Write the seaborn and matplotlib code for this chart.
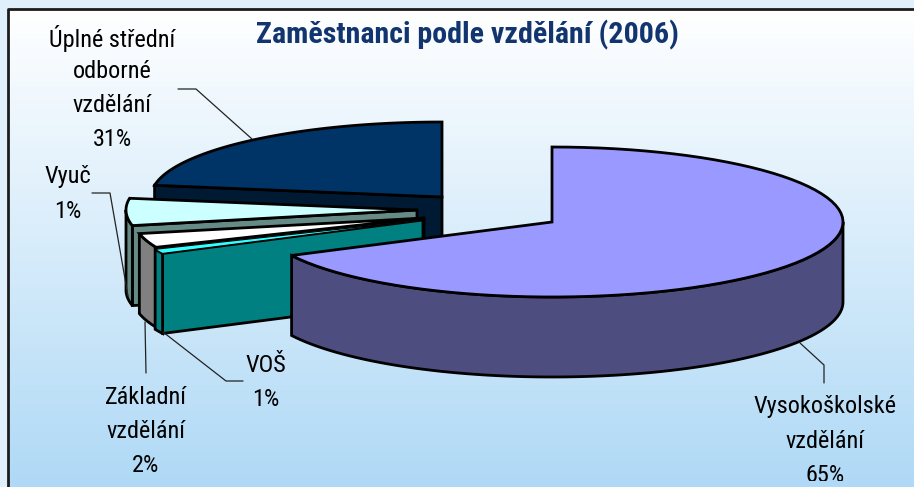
import numpy as np
import matplotlib
matplotlib.use("Agg")
import matplotlib.pyplot as plt
from matplotlib.patches import Rectangle
import seaborn as sns

categories = ["Vysokoškolské\nvzdělání", "VOŠ", "Základní\nvzdělání", "Vyuč", "Úplné střední\nodborné\nvzdělání"]
shares = [65, 1, 2, 1, 31]
title = "Zaměstnanci podle vzdělání (2006)"

top_colors = sns.color_palette(["#9999ff", "#33ffff", "#ffffff", "#ccffff", "#003366"])
wall_colors = sns.color_palette(["#4d4d80", "#008080", "#808080", "#668a85", "#001a33"])

W, H = 914, 487
RX, RY, DEPTH = 291, 75, 80

# each slice is pulled away from the pie on its own, apex in pixels
apexes = [(552, 222), (423, 220), (424, 218), (417, 210), (442, 197)]
# the 3D view squeezes the big back slice: cumulative share -> drawn angle
view_share = [0, 65, 66, 68, 69, 100]
view_angle = [0, 243.5, 247, 258, 279, 360]

leaders = [
    [(800, 343), (824, 365), (824, 383)],
    [(163, 332), (226, 381), (243, 381)],
    [(145, 322), (146, 373)],
    [(92, 193), (110, 193), (128, 296)],
    [(178, 89), (196, 89), (252, 139)],
]
label_pos = [(825, 407), (266, 366), (146, 397), (68, 177), (112, 38)]


def rim(apex, a0, a1, n=80):
    t = np.radians(np.linspace(a0, a1, n))
    return apex[0] + RX * np.sin(t), apex[1] - RY * np.cos(t)


def draw_slice(ax, apex, a0, a1, top, wall):
    # cut face on the clockwise-start side, only when it faces the viewer
    if a0 > 180:
        x, y = rim(apex, a0, a0, 1)
        ax.fill([apex[0], x[0], x[0], apex[0]], [apex[1], y[0], y[0] + DEPTH, apex[1] + DEPTH],
                fc=wall, ec="black", lw=2)
    # outer wall, the front half of the rim
    lo, hi = max(a0, 90), min(a1, 270)
    if hi > lo:
        x, y = rim(apex, lo, hi)
        ax.fill(np.r_[x, x[::-1]], np.r_[y, y[::-1] + DEPTH], fc=wall, ec="black", lw=2)
    # very thin slices would vanish under a full-width edge
    x, y = rim(apex, a0, a1)
    ax.fill(np.r_[apex[0], x], np.r_[apex[1], y], fc=top, ec="black", lw=2 if a1 - a0 > 5 else 0.8)


sns.set_theme(style="white")
plt.rcParams["font.family"] = ["Roboto Condensed", "Liberation Sans", "DejaVu Sans"]

fig = plt.figure(figsize=(W / 100, H / 100), dpi=100, facecolor="#dff0fc")
ax = fig.add_axes([0, 0, 1, 1])
ax.axis("off")

# panel gradient and frame
grad = np.linspace(0, 1, 256)[:, None]
cmap = matplotlib.colors.LinearSegmentedColormap.from_list("panel", ["#ffffff", "#afd9f6"])
ax.imshow(grad, extent=(8, W, H, 9), cmap=cmap, aspect="auto", zorder=0)
ax.plot([7.5, 7.5, W], [H, 8.5, 8.5], color="#1c1c1c", lw=2, zorder=1)
ax.set_xlim(0, W)
ax.set_ylim(H, 0)

# slices back to front
edges = np.interp(np.cumsum([0] + shares), view_share, view_angle)
for i in [4, 3, 2, 1, 0]:
    draw_slice(ax, apexes[i], edges[i], edges[i + 1], top_colors[i], wall_colors[i])

# the original cuts its last label line off just above the bottom edge
text_clip = Rectangle((0, 0), W, 481, transform=ax.transData)

for pts, cat, pos, s in zip(leaders, categories, label_pos, shares):
    ax.plot(*zip(*pts), color="#222222", lw=0.9, zorder=5)
    lines = cat.split("\n") + [f"{s}%"]
    for k, line in enumerate(lines):
        t = ax.text(pos[0], pos[1] + 34 * k, line, ha="center", va="center", fontsize=17.5,
                    color="black", zorder=6)
        t.set_clip_path(text_clip)
        t.set_clip_on(True)

ax.text(467, 35, title, ha="center", va="center", fontsize=21.6, fontweight="bold", color="#12356f", zorder=6)

fig.savefig("out.png", dpi=100, facecolor=fig.get_facecolor())
